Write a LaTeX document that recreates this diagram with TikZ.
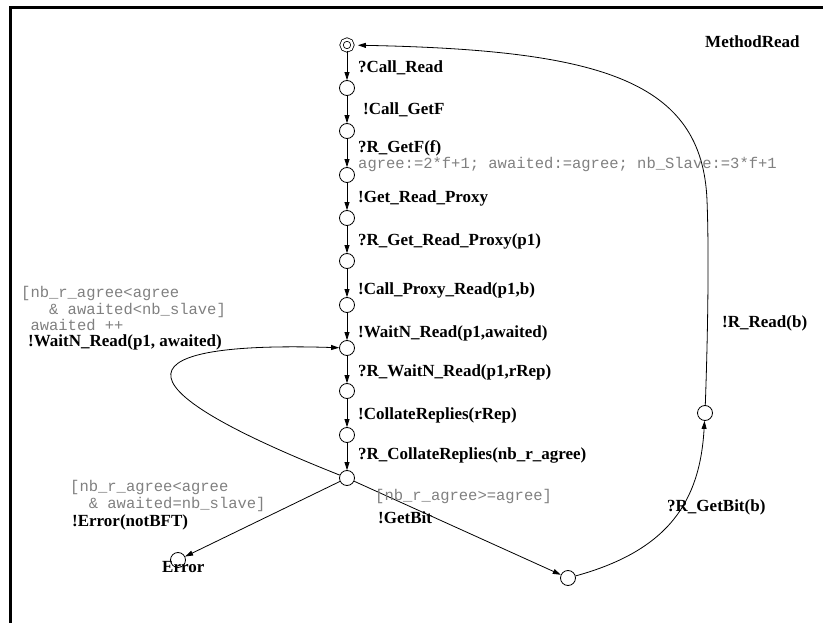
\documentclass[tikz,border=0pt]{standalone}
\usepackage{fontspec}
\setmainfont{Liberation Serif}
\setmonofont{Liberation Mono}
\usetikzlibrary{arrows.meta}

\begin{document}
\begin{tikzpicture}[x=1pt,y=-1pt,
    state/.style={draw,circle,line width=0.8pt,minimum size=15pt,inner sep=0pt},
    trans/.style={line width=0.8pt,-{Triangle[length=8pt,width=5pt]}},
    act/.style={font=\fontsize{17}{18}\selectfont\bfseries,anchor=west,inner sep=0pt},
    upd/.style={font=\fontsize{15.5}{16.5}\selectfont\ttfamily,text=black!50,
      anchor=west,inner sep=0pt,align=left}]
  \useasboundingbox (0,0) rectangle (823,623);
  \draw[line width=3pt] (10.5,623) -- (10.5,7.5) -- (823,7.5);

  \node[state,minimum size=11pt,double,double distance=2.4pt] (s0) at (347,45) {};
  \node[state] (s1) at (347,88) {};
  \node[state] (s2) at (347,131) {};
  \node[state] (s3) at (347,175) {};
  \node[state] (s4) at (347,218) {};
  \node[state] (s5) at (347,261) {};
  \node[state] (s6) at (347,305) {};
  \node[state] (s7) at (347,348) {};
  \node[state] (s8) at (347,391) {};
  \node[state] (s9) at (347,435) {};
  \node[state] (s10) at (347,478) {};
  \node[state] (err) at (178,560) {};
  \node[state] (s11) at (568,578) {};
  \node[state] (s12) at (705,413) {};

  \node[act] (title) at (705,42) {MethodRead};
  \node[act] (errname) at (162,567) {Error};

  \begin{scope}[trans]
    \draw (s0) to (s1);
    \draw (s1) to (s2);
    \draw (s2) to (s3);
    \draw (s3) to (s4);
    \draw (s4) to (s5);
    \draw (s5) to (s6);
    \draw (s6) to (s7);
    \draw (s7) to (s8);
    \draw (s8) to (s9);
    \draw (s9) to (s10);
    \draw (s10) .. controls (75,370) and (160,342) .. (s7);
    \draw (s10) to (err);
    \draw (s10) to (s11);
    \draw (s11) .. controls (670,550) and (700,500) .. (s12);
    \draw[shorten >=5pt] (s12) .. controls (708,330) and (709,250) .. (707,200)
      .. controls (702,80) and (600,50) .. (s0);
  \end{scope}

  % labels of the transitions
  \node[act] (l01) at (358,68) {?Call\_Read};
  \node[act] (l12) at (363,110) {!Call\_GetF};
  \node[act] (l23) at (358,148) {?R\_GetF(f)};
  \node[upd] (u23) at (358,164) {agree:=2*f+1; awaited:=agree; nb\_Slave:=3*f+1};
  \node[act] (l34) at (358,198) {!Get\_Read\_Proxy};
  \node[act] (l45) at (358,241) {?R\_Get\_Read\_Proxy(p1)};
  \node[act] (l56) at (358,290) {!Call\_Proxy\_Read(p1,b)};
  \node[act] (l67) at (358,333) {!WaitN\_Read(p1,awaited)};
  \node[act] (l78) at (358,372) {?R\_WaitN\_Read(p1,rRep)};
  \node[act] (l89) at (358,415) {!CollateReplies(rRep)};
  \node[act] (l910) at (358,455) {?R\_CollateReplies(nb\_r\_agree)};
  \node[upd] (gloop) at (21,308.5) {[nb\_r\_agree<agree\\
    \hphantom{xxx}\& awaited<nb\_slave]\\
    \hphantom{x}awaited ++};
  \node[act] (lloop) at (28,342) {!WaitN\_Read(p1, awaited)};
  \node[upd] (gerr) at (70,496) {[nb\_r\_agree<agree\\
    \hphantom{xx}\& awaited=nb\_slave]};
  \node[act] (lerr) at (72,522) {!Error(notBFT)};
  \node[upd] (gbit) at (375,496) {[nb\_r\_agree>=agree]};
  \node[act] (lbit) at (378,518) {!GetBit};
  \node[act] (lrbit) at (667,507) {?R\_GetBit(b)};
  \node[act] (lread) at (722,323) {!R\_Read(b)};
\end{tikzpicture}
\end{document}
